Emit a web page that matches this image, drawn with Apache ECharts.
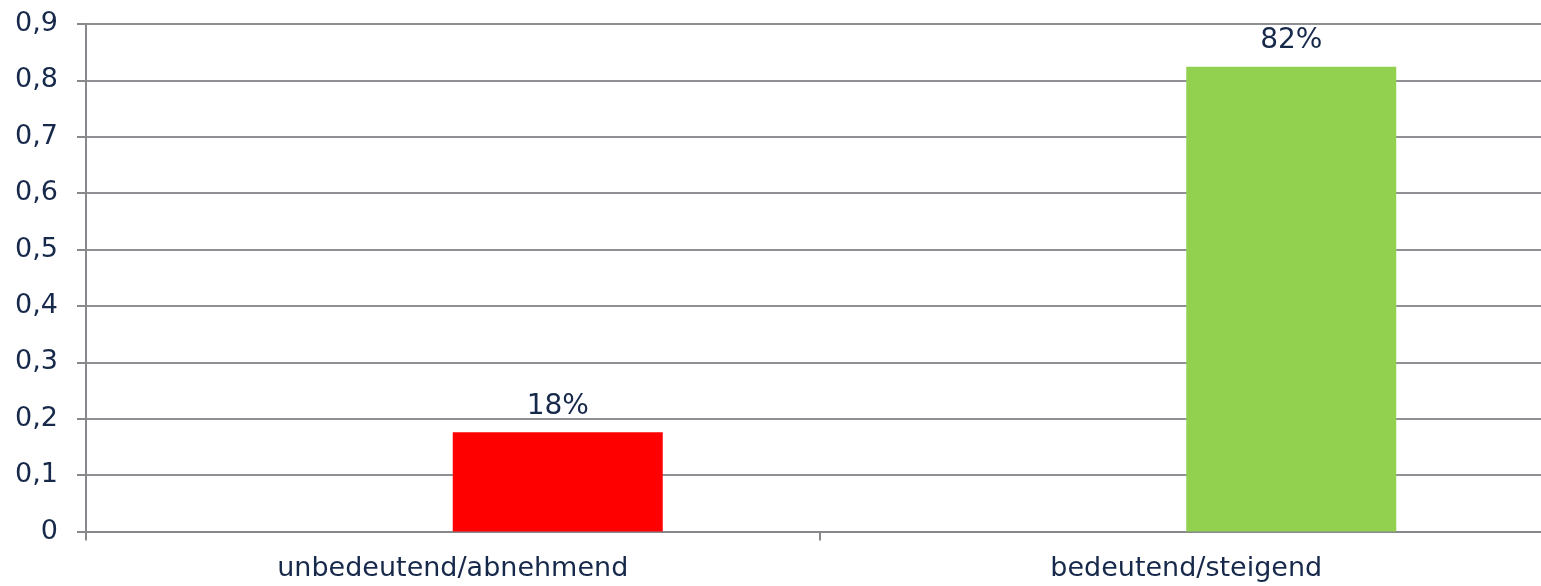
<!DOCTYPE html>
<html>
<head>
<meta charset="utf-8">
<script src="https://cdn.jsdelivr.net/npm/echarts@6/dist/echarts.min.js"></script>
<style>html,body{margin:0;padding:0;background:#fff}#c{width:1541px;height:586px}</style>
</head>
<body>
<div id="c"></div>
<script>
const categories = ['unbedeutend/abnehmend', 'bedeutend/steigend'];
const values = [0.176, 0.824];
const barColors = ['#ff0000', '#92d050'];
const yTicks = [0, 0.1, 0.2, 0.3, 0.4, 0.5, 0.6, 0.7, 0.8, 0.9];

const textColor = '#17294a';
const font = 'DejaVu Sans, Verdana, sans-serif';
const chart = echarts.init(document.getElementById('c'), null, {renderer: 'canvas'});
chart.setOption({
  animation: false,
  grid: {left: 86, width: 1467, top: 24, bottom: 54.5, containLabel: false, outerBoundsMode: 'none'},
  xAxis: {
    type: 'category',
    data: categories,
    axisLine: {lineStyle: {color: '#87888c', width: 2}},
    axisTick: {show: true, length: 9, lineStyle: {color: '#87888c', width: 2}},
    axisLabel: {color: textColor, fontSize: 27, fontFamily: font, margin: 24, interval: 0},
    splitLine: {show: false}
  },
  yAxis: {
    type: 'value',
    min: yTicks[0], max: yTicks[yTicks.length - 1], interval: 0.1,
    axisLine: {show: true, lineStyle: {color: '#87888c', width: 2}},
    axisTick: {show: true, length: 9, lineStyle: {color: '#87888c', width: 2}},
    axisLabel: {color: textColor, fontSize: 27, fontFamily: font, margin: 28,
      formatter: v => String(Math.round(v * 10) / 10).replace('.', ',')},
    splitLine: {show: true, lineStyle: {color: '#8f9094', width: 2}}
  },
  series: [
    {type: 'bar', data: values.map(() => null), barWidth: 210, barGap: '0%'},
    {type: 'bar', barWidth: 210, barGap: '0%',
      data: values.map((v, i) => ({value: v, itemStyle: {color: barColors[i]}})),
      label: {show: true, position: 'top', distance: 12, color: textColor, fontSize: 28, fontFamily: font,
        formatter: p => Math.round(p.value * 100) + '%'}}
  ]
});
</script>
</body>
</html>
